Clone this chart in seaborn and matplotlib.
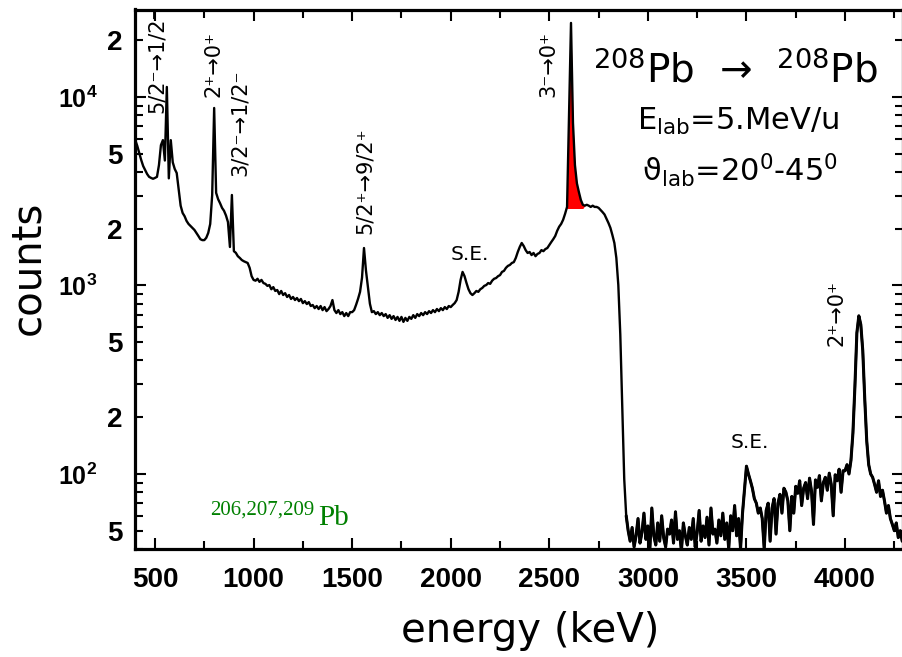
import numpy as np
import pandas as pd
import matplotlib
matplotlib.use("Agg")
import matplotlib.pyplot as plt
import seaborn as sns

# Gamma-ray spectrum: counts per 10 keV channel, first channel at 400 keV
first_channel_keV = 400
channel_width_keV = 10

counts_400_990 = [
    5900, 5500, 5050, 4630, 4300, 4100, 3900, 3770, 3720, 3680,
    3720, 3770, 4350, 5550, 5900, 4600, 11300, 3700, 5900, 4500,
    4150, 3950, 3250, 2650, 2425, 2330, 2200, 2120, 2070, 2020,
    1970, 1900, 1830, 1760, 1740, 1740, 1790, 1900, 2120, 3020,
    8740, 3100, 2870, 2730, 2580, 2490, 2350, 2170, 1600, 3020,
    1520, 1490, 1430, 1400, 1365, 1345, 1330, 1316, 1240, 1120,
]
counts_1000_1990 = [
    1070, 1060, 1085, 1045, 1070, 1030, 1020, 995, 1005, 955,
    980, 935, 946, 900, 935, 890, 910, 869, 890, 848,
    869, 837, 858, 826, 848, 806, 826, 797, 816, 778,
    788, 758, 778, 750, 778, 740, 768, 731, 750, 778,
    837, 740, 714, 740, 705, 722, 688, 714, 688, 722,
    722, 740, 790, 850, 925, 1100, 1580, 1200, 980, 800,
    722, 731, 705, 722, 696, 714, 688, 705, 673, 696,
    665, 688, 656, 681, 649, 681, 641, 673, 649, 681,
    665, 696, 673, 705, 688, 714, 696, 722, 705, 731,
    714, 740, 722, 750, 731, 758, 740, 768, 750, 778,
]
counts_2000_2890 = [
    768, 788, 806, 837, 925, 1070, 1180, 1120, 1030, 955,
    910, 890, 910, 935, 925, 955, 970, 995, 1005, 1030,
    1020, 1060, 1085, 1095, 1120, 1135, 1180, 1195, 1240, 1270,
    1285, 1316, 1330, 1400, 1505, 1600, 1680, 1620, 1540, 1487,
    1505, 1450, 1487, 1430, 1470, 1487, 1540, 1520, 1560, 1580,
    1640, 1700, 1760, 1830, 1950, 2050, 2120, 2230, 2400, 2610,
    8200, 24700, 7300, 4350, 3480, 3130, 2840, 2680, 2650, 2680,
    2650, 2610, 2650, 2610, 2610, 2580, 2515, 2450, 2380, 2260,
    2145, 2020, 1850, 1680, 1400, 1005, 550, 232, 94, 60,
]
counts_2900_4290 = [
    50, 44, 52, 41, 47, 58, 43, 49, 62, 45,
    53, 40, 66, 47, 42, 55, 44, 60, 46, 41,
    51, 48, 57, 43, 63, 45, 50, 39, 55, 47,
    42, 52, 45, 58, 41, 49, 64, 44, 53, 46,
    59, 42, 66, 48, 51, 43, 57, 47, 62, 45,
    55, 40, 60, 50, 68, 47, 58, 40, 62, 82,
    110, 100, 92, 84, 74, 70, 62, 66, 58, 40,
    64, 70, 44, 66, 74, 48, 70, 78, 62, 84,
    80, 72, 50, 76, 62, 86, 79, 92, 68, 84,
    90, 74, 95, 81, 54, 93, 85, 98, 72, 90,
    96, 82, 101, 88, 60, 99, 92, 106, 80, 104,
    104, 112, 100, 118, 165, 290, 560, 690, 620, 450,
    250, 150, 112, 100, 96, 88, 80, 92, 76, 82,
    72, 62, 68, 58, 54, 50, 55, 46, 50, 44,
]

# Shaded 3- -> 0+ line
red_window_keV = (2590, 2670)
red_floor_counts = 2560

# Start of the low-statistics tail above the Compton edge
tail_start_keV = 2890

# Axis ticks
x_major_ticks = [500, 1000, 1500, 2000, 2500, 3000, 3500, 4000]
x_minor_ticks = [750, 1250, 1750, 2250, 2750, 3250, 3750, 4250]
y_decades = [100, 1000, 10000]
y_decade_labels = [r"$\mathregular{10^{2}}$", r"$\mathregular{10^{3}}$",
                   r"$\mathregular{10^{4}}$"]
y_minor_ticks = [40, 50, 60, 70, 80, 90,
                 200, 300, 400, 500, 600, 700, 800, 900,
                 2000, 3000, 4000, 5000, 6000, 7000, 8000, 9000,
                 20000]
y_minor_labels = ["", "5", "", "", "", "",
                  "2", "", "", "5", "", "", "", "",
                  "2", "", "", "5", "", "", "", "",
                  "2"]

# Transition labels (vertical), placed in axes fractions
line_labels = ["5/2\u207b\u21921/2\u207b", "2\u207a\u21920\u207a",
               "3/2\u207b\u21921/2\u207b", "5/2\u207a\u21929/2\u207a",
               "3\u207b\u21920\u207a", "2\u207a\u21920\u207a"]
line_label_x = [0.0286, 0.1016, 0.1367, 0.2995, 0.5378, 0.9128]
line_label_y = [0.808, 0.838, 0.691, 0.584, 0.838, 0.376]
escape_label_x = [0.4362, 0.8008]
escape_label_y = [0.545, 0.1965]

# ---------------------------------------------------------------------------
counts = np.array(counts_400_990 + counts_1000_1990 + counts_2000_2890
                  + counts_2900_4290, dtype=float)
energy = first_channel_keV + channel_width_keV * np.arange(len(counts))
spectrum = pd.DataFrame({"energy": energy, "counts": counts})
tail = spectrum[spectrum["energy"] >= tail_start_keV]

sns.set_theme(style="ticks")
plt.rcParams["font.family"] = ["DejaVu Sans"]
for key in ("axes.edgecolor", "xtick.color", "ytick.color",
            "text.color", "axes.labelcolor"):
    plt.rcParams[key] = "black"

fig = plt.figure(figsize=(9.02, 6.57), dpi=100)
ax = fig.add_axes([135 / 902, (657 - 549) / 657, 768 / 902, 539.5 / 657])
ax.set_yscale("log")

in_window = (spectrum["energy"] >= red_window_keV[0]) & (spectrum["energy"] <= red_window_keV[1])
ax.fill_between(spectrum["energy"], spectrum["counts"], red_floor_counts,
                where=in_window & (spectrum["counts"] >= red_floor_counts),
                color="#ff0000", linewidth=0, interpolate=True, zorder=1)

sns.lineplot(data=spectrum, x="energy", y="counts", ax=ax, color="black",
             linewidth=1.7, estimator=None, sort=False, errorbar=None, zorder=2)
# the noisy tail is drawn a little heavier, as a dense band
sns.lineplot(data=tail, x="energy", y="counts", ax=ax, color="black",
             linewidth=2.2, estimator=None, sort=False, errorbar=None, zorder=2)

ax.set_xlim(398.5, 4294)
ax.set_ylim(40.0, 29100)

tick_font = ["Liberation Sans", "DejaVu Sans"]
ax.set_xticks(x_major_ticks, labels=[str(t) for t in x_major_ticks],
              fontsize=20, fontweight="bold", fontfamily=tick_font)
ax.set_xticks(x_minor_ticks, minor=True)
ax.set_yticks(y_decades, labels=y_decade_labels,
              fontsize=18, fontweight="bold", fontfamily=tick_font)
ax.set_yticks(y_minor_ticks, labels=y_minor_labels, minor=True,
              fontsize=20, fontweight="bold", fontfamily=tick_font)

ax.tick_params(which="both", direction="in", top=True, right=True,
               width=1.5, color="black")
ax.tick_params(which="major", length=8)
ax.tick_params(which="minor", length=5.5)
ax.tick_params(axis="x", which="major", pad=13)
ax.tick_params(axis="y", which="major", pad=27)
ax.tick_params(axis="y", which="minor", pad=9)
for side in ax.spines.values():
    side.set_linewidth(2.3)
    side.set_color("black")

ax.set_xlabel("energy (keV)", fontsize=29, ha="center", va="baseline")
ax.xaxis.set_label_coords(0.5143, -0.1724)
ax.set_ylabel("counts", fontsize=29, ha="center", va="baseline",
              rotation=90, rotation_mode="anchor")
ax.yaxis.set_label_coords(-0.1250, 0.5208)

for text, tx, ty in zip(line_labels, line_label_x, line_label_y):
    ax.text(tx, ty, text, transform=ax.transAxes, rotation=90,
            ha="center", va="bottom", fontsize=15, color="black")
for tx, ty in zip(escape_label_x, escape_label_y):
    ax.text(tx, ty, "S.E.", transform=ax.transAxes, ha="center",
            va="center", fontsize=14.5, color="black")

ax.text(0.7813, 0.8638, "$^{208}$Pb  \u2192  $^{208}$Pb",
        transform=ax.transAxes, ha="center", va="baseline", fontsize=28)
ax.text(0.7858, 0.7767, r"E$_{\rm lab}$=5.MeV/u", transform=ax.transAxes,
        ha="center", va="baseline", fontsize=22)
ax.text(0.7871, 0.682, "\u03d1" + r"$_{\rm lab}$=20$^{0}$-45$^{0}$",
        transform=ax.transAxes, ha="center", va="baseline", fontsize=22)

ax.text(0.0977, 0.063, "206,207,209", transform=ax.transAxes, ha="left",
        va="baseline", fontsize=15, color="#008000",
        fontfamily=["Liberation Serif", "DejaVu Serif"])
ax.text(0.2383, 0.0445, "Pb", transform=ax.transAxes, ha="left",
        va="baseline", fontsize=21, color="#008000",
        fontfamily=["Liberation Serif", "DejaVu Serif"])

fig.savefig("out.png", dpi=100)
